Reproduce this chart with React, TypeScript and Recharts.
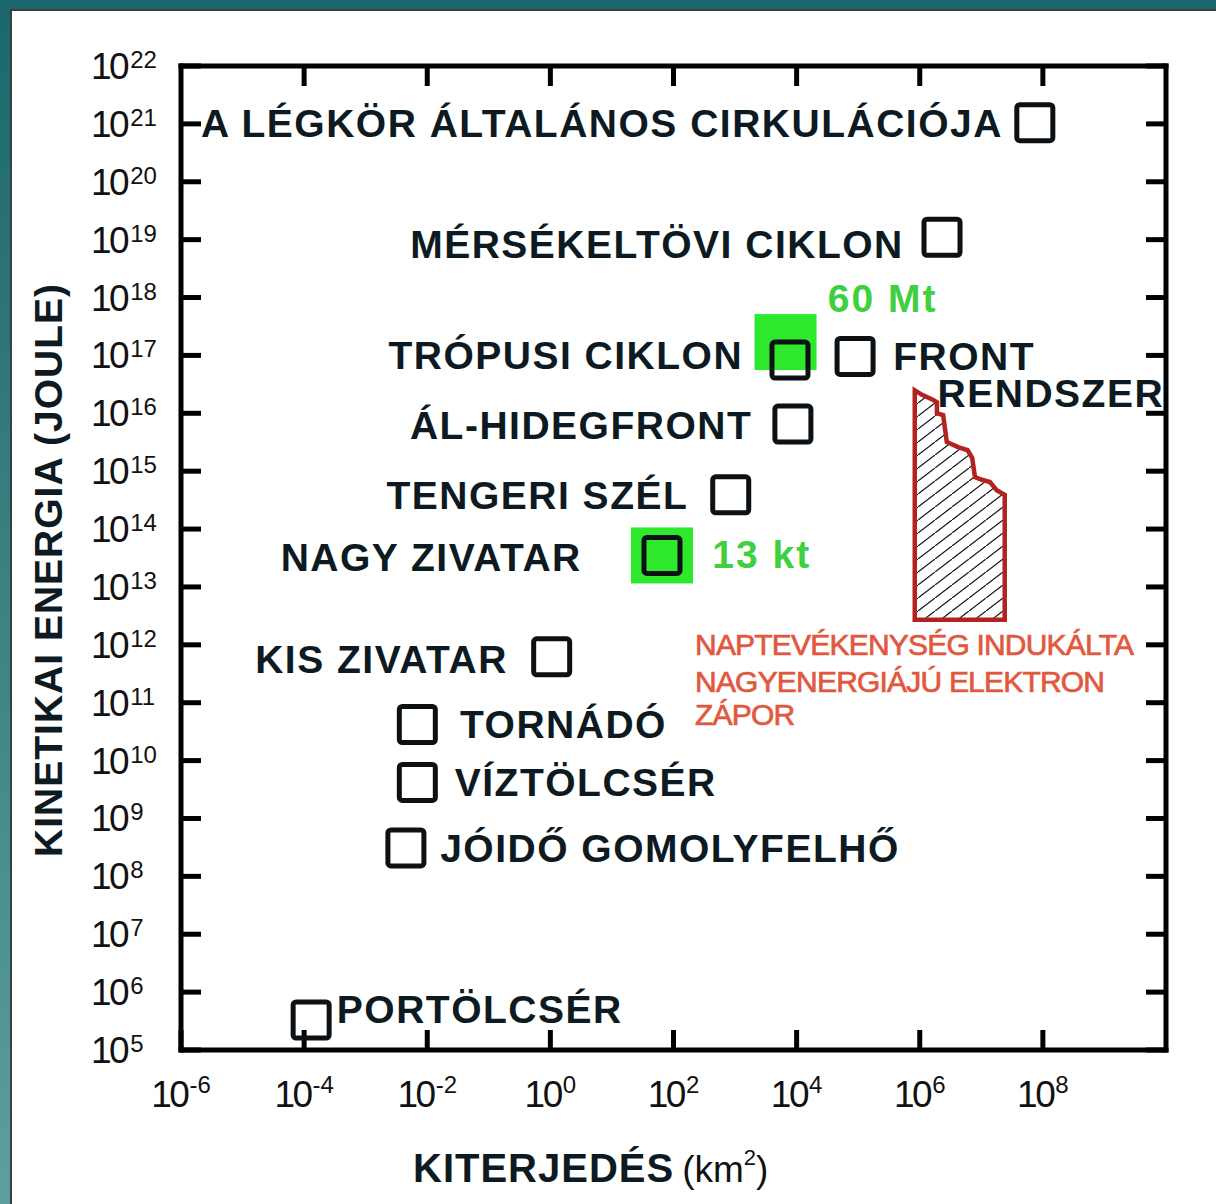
import React from 'react';
import { ScatterChart, Scatter, XAxis, YAxis } from 'recharts';

// Atmospheric phenomena: horizontal extent (km²) vs kinetic energy (J)
const phenomena = [
  'A LÉGKÖR ÁLTALÁNOS CIRKULÁCIÓJA',
  'MÉRSÉKELTÖVI CIKLON',
  'TRÓPUSI CIKLON',
  'FRONT RENDSZER',
  'ÁL-HIDEGFRONT',
  'TENGERI SZÉL',
  'NAGY ZIVATAR',
  'KIS ZIVATAR',
  'TORNÁDÓ',
  'VÍZTÖLCSÉR',
  'JÓIDŐ GOMOLYFELHŐ',
  'PORTÖLCSÉR',
];
const extentKm2 = [7.4e7, 2.3e6, 7.8e3, 8.9e4, 8.7e3, 8.5e2, 65, 1.05, 6.9e-3, 6.9e-3, 4.5e-3, 1.3e-4];
const kineticEnergyJ = [1.05e21, 1.1e19, 8.3e16, 9.6e16, 6.5e15, 3.9e14, 3.5e13, 6.2e11, 4.2e10, 4.2e9, 3.1e8, 3.3e5];

// Nuclear equivalents (green boxes)
const nuclearExtentKm2 = [6.6e3, 65];
const nuclearEnergyJ = [1.7e17, 3.5e13];

// Solar-activity induced high-energy electron precipitation (hatched region outline)
const electronExtentKm2 = [8.3e5, 8.3e5, 1.07e6, 1.66e6, 1.9e6, 1.9e6, 2.4e6, 2.75e6, 4.2e6, 6.0e6, 7.1e6, 7.9e6, 1.02e7, 1.38e7, 1.78e7, 2.4e7, 2.4e7];
const electronEnergyJ = [2.7e12, 2.5e16, 2.1e16, 1.7e16, 1.55e16, 1.0e16, 9.3e15, 3.2e15, 2.6e15, 2.3e15, 1.7e15, 7.9e14, 7.1e14, 6.5e14, 4.7e14, 3.9e14, 2.7e12];

// Text annotations (placed in data space)
const labelTexts = [
  'A LÉGKÖR ÁLTALÁNOS CIRKULÁCIÓJA',
  'MÉRSÉKELTÖVI CIKLON',
  'TRÓPUSI CIKLON',
  'FRONT',
  'RENDSZER',
  'ÁL-HIDEGFRONT',
  'TENGERI SZÉL',
  'NAGY ZIVATAR',
  'KIS ZIVATAR',
  'TORNÁDÓ',
  'VÍZTÖLCSÉR',
  'JÓIDŐ GOMOLYFELHŐ',
  'PORTÖLCSÉR',
  '60 Mt',
  '13 kt',
  'NAPTEVÉKENYSÉG INDUKÁLTA',
  'NAGYENERGIÁJÚ ELEKTRON',
  'ZÁPOR',
];
const labelExtentKm2 = [2.24e7, 5.5e5, 1.35e3, 3.7e5, 1.95e6, 1.9e3, 174, 3.24, 0.204, 0.034, 0.028, 0.0162, 3.4e-4, 3.2e4, 427, 224, 224, 224];
const labelEnergyJ = [1.05e21, 8.5e18, 1.02e17, 9.8e16, 2.24e16, 6.3e15, 3.9e14, 3.3e13, 5.6e11, 4.3e10, 4.3e9, 3.1e8, 5.2e5, 1.0e18, 3.7e13, 1.0e12, 2.3e11, 6.2e10];
const labelAnchors = ['end', 'end', 'end', 'start', 'start', 'end', 'end', 'end', 'end', 'start', 'start', 'start', 'start', 'start', 'start', 'start', 'start', 'start'];
const labelKinds = ['black', 'black', 'black', 'black', 'black', 'black', 'black', 'black', 'black', 'black', 'black', 'black', 'black', 'green', 'green', 'red', 'red', 'red'];

const xTicks = [1e-6, 1e-4, 1e-2, 1, 1e2, 1e4, 1e6, 1e8];
const xTopTicks = [1e-4, 1e-2, 1, 1e2, 1e4, 1e6, 1e8];
const yTicks = [1e5, 1e6, 1e7, 1e8, 1e9, 1e10, 1e11, 1e12, 1e13, 1e14, 1e15, 1e16, 1e17, 1e18, 1e19, 1e20, 1e21, 1e22];
const xDomain = [1e-6, 1e10];
const yDomain = [1e5, 1e22];

const FONT = '"Liberation Sans", Arial, Helvetica, sans-serif';
const INK = '#0e1a22';

const squares = phenomena.map((name, i) => ({ name, x: extentKm2[i], y: kineticEnergyJ[i] }));
const nuclear = nuclearExtentKm2.map((x, i) => ({ x, y: nuclearEnergyJ[i] }));
const electron = electronExtentKm2.map((x, i) => ({ x, y: electronEnergyJ[i] }));
const labels = labelTexts.map((text, i) => ({
  text,
  x: labelExtentKm2[i],
  y: labelEnergyJ[i],
  anchor: labelAnchors[i],
  kind: labelKinds[i],
}));

const kindStyle: Record<string, any> = {
  black: { fill: INK, fontSize: 39, fontWeight: 700, letterSpacing: 1.5, dy: 14, stroke: 'none' },
  green: { fill: '#3fcf3f', fontSize: 39, fontWeight: 700, letterSpacing: 2, dy: 14, stroke: 'none' },
  red: { fill: '#e2583e', fontSize: 30, fontWeight: 400, letterSpacing: -0.8, dy: 10.5, stroke: '#e2583e' },
};

const exp10 = (v: number) => Math.round(Math.log10(v));

const LeftTick = (p: any) => {
  const e = exp10(p.payload.value);
  return (
    <text x={p.x - 110} y={p.y + 13} textAnchor="start" fill="#111" fontFamily={FONT} fontSize={37}>
      <tspan letterSpacing={-2.5}>10</tspan>
      <tspan dx={3} dy={-11} fontSize={24}>{e}</tspan>
    </text>
  );
};

const BottomTick = (p: any) => {
  const e = exp10(p.payload.value);
  return (
    <text x={p.x} y={p.y + 77} textAnchor="middle" fill="#111" fontFamily={FONT} fontSize={37}>
      <tspan letterSpacing={-2.5}>10</tspan>
      <tspan dx={2} dy={-14} fontSize={24}>{e}</tspan>
    </text>
  );
};

const EmptyTick = () => <g />;

const OpenSquare = (p: any) => (
  <rect x={p.cx - 18} y={p.cy - 18} width={36} height={36} rx={3} fill="none" stroke="#0b1114" strokeWidth={5} />
);

const GreenBox = (p: any) => (
  <rect x={p.cx - 31} y={p.cy - 28} width={62} height={56} fill="#2ee82e" />
);

const LabelShape = (p: any) => {
  const d = p.payload;
  const s = kindStyle[d.kind];
  return (
    <text
      x={p.cx}
      y={p.cy + s.dy}
      textAnchor={d.anchor}
      fill={s.fill}
      stroke={s.stroke}
      strokeWidth={s.stroke === 'none' ? 0 : 0.7}
      fontSize={s.fontSize}
      fontWeight={s.fontWeight}
      letterSpacing={s.letterSpacing}
      fontFamily={FONT}
    >
      {d.text}
    </text>
  );
};

const HatchedRegion = (p: any) => {
  const pts = p.points || [];
  const d = pts.map((q: any, i: number) => `${i ? 'L' : 'M'}${q.x},${q.y}`).join(' ') + ' Z';
  return (
    <g>
      <defs>
        <pattern id="hatch" patternUnits="userSpaceOnUse" width={17} height={13}>
          <path d="M0,13 L17,0" stroke="#111" strokeWidth={1.2} fill="none" />
        </pattern>
      </defs>
      <path d={d} fill="url(#hatch)" stroke="#b3221f" strokeWidth={4.5} strokeLinejoin="miter" />
    </g>
  );
};

const Nothing = () => <g />;

const axisLineStyle = { stroke: '#000', strokeWidth: 5, strokeLinecap: 'square' as const };
const tickLineStyle = { stroke: '#000', strokeWidth: 5 };

const YTitle = (props: any) => {
  const vb = props.viewBox || { x: 81, y: 66, width: 100, height: 984 };
  const x = vb.x - 19;
  const y = vb.y + vb.height / 2 + 12;
  return (
    <text
      x={x}
      y={y}
      transform={`rotate(-90, ${x}, ${y})`}
      textAnchor="middle"
      fill={INK}
      fontFamily={FONT}
      fontSize={39}
      fontWeight={700}
      letterSpacing={1}
    >
      KINETIKAI ENERGIA (JOULE)
    </text>
  );
};

const XTitle = (props: any) => {
  const vb = props.viewBox || { x: 181, y: 1050, width: 985, height: 60 };
  const x = vb.x + 232;
  const y = vb.y + 132;
  return (
    <text x={x} y={y} textAnchor="start" fill={INK} fontFamily={FONT}>
      <tspan fontSize={40} fontWeight={700} letterSpacing={1}>KITERJEDÉS</tspan>
      <tspan dx={8} fontSize={37} fill="#111">(km</tspan>
      <tspan dy={-17} fontSize={22} fill="#111">2</tspan>
      <tspan dy={17} fontSize={37} fill="#111">)</tspan>
    </text>
  );
};

export default function App() {
  return (
    <div
      style={{
        position: 'absolute',
        left: 0,
        top: 0,
        width: 1216,
        height: 1204,
        overflow: 'hidden',
        background: 'linear-gradient(180deg, #1b676b 0%, #3f8585 55%, #5e9e9e 100%)',
      }}
    >
      <div
        style={{
          position: 'absolute',
          left: 10,
          top: 9,
          right: 0,
          bottom: 0,
          background: '#fff',
          borderTop: '2px solid #3a4040',
          borderLeft: '2px solid #3a4040',
        }}
      />
      <div style={{ position: 'absolute', left: 0, top: 0 }}>
        <ScatterChart width={1216} height={1204} margin={{ top: 65, right: 49, bottom: 94, left: 81 }}>
          <XAxis
            dataKey="x"
            type="number"
            scale="log"
            domain={xDomain}
            allowDataOverflow
            ticks={xTicks}
            interval={0}
            height={60}
            tickSize={-20}
            tickMargin={0}
            axisLine={axisLineStyle}
            tickLine={tickLineStyle}
            tick={<BottomTick />}
            label={{ content: <XTitle /> }}
          />
          <XAxis
            xAxisId="top"
            orientation="top"
            dataKey="x"
            type="number"
            scale="log"
            domain={xDomain}
            allowDataOverflow
            ticks={xTopTicks}
            interval={0}
            height={1}
            tickSize={-20}
            tickMargin={0}
            axisLine={axisLineStyle}
            tickLine={tickLineStyle}
            tick={<EmptyTick />}
          />
          <YAxis
            dataKey="y"
            type="number"
            scale="log"
            domain={yDomain}
            allowDataOverflow
            ticks={yTicks}
            interval={0}
            width={100}
            tickSize={-20}
            tickMargin={0}
            axisLine={axisLineStyle}
            tickLine={tickLineStyle}
            tick={<LeftTick />}
            label={{ content: <YTitle /> }}
          />
          <YAxis
            yAxisId="right"
            orientation="right"
            dataKey="y"
            type="number"
            scale="log"
            domain={yDomain}
            allowDataOverflow
            ticks={yTicks}
            interval={0}
            width={1}
            tickSize={-20}
            tickMargin={0}
            axisLine={axisLineStyle}
            tickLine={tickLineStyle}
            tick={<EmptyTick />}
          />
          <Scatter
            data={squares}
            xAxisId="top"
            yAxisId="right"
            shape={Nothing}
            isAnimationActive={false}
          />
          <Scatter
            data={electron}
            line={HatchedRegion}
            lineType="joint"
            shape={Nothing}
            isAnimationActive={false}
          />
          <Scatter data={nuclear} shape={GreenBox} isAnimationActive={false} />
          <Scatter data={squares} shape={OpenSquare} isAnimationActive={false} />
          <Scatter data={labels} shape={LabelShape} isAnimationActive={false} />
        </ScatterChart>
      </div>
    </div>
  );
}
